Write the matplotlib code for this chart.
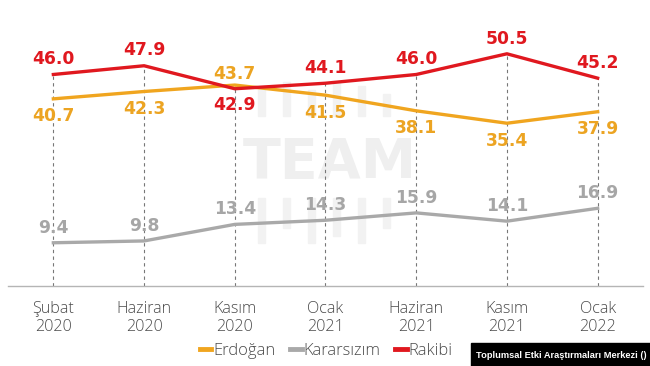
import numpy as np
import matplotlib.pyplot as plt
from matplotlib.patches import Rectangle

# data
periods = ['Şubat\n2020', 'Haziran\n2020', 'Kasım\n2020', 'Ocak\n2021',
           'Haziran\n2021', 'Kasım\n2021', 'Ocak\n2022']
erdogan = [40.7, 42.3, 43.7, 41.5, 38.1, 35.4, 37.9]
kararsiz = [9.4, 9.8, 13.4, 14.3, 15.9, 14.1, 16.9]
rakibi = [46.0, 47.9, 42.9, 44.1, 46.0, 50.5, 45.2]

RED = '#e0181f'
ORANGE = '#f0a51f'
GRAY = '#a9a9a9'

W, H = 650, 366
fig = plt.figure(figsize=(6.5, 3.66), dpi=100)
ax = fig.add_axes([8 / W, 1 - 286 / H, 635 / W, 286 / H])
x = np.arange(len(periods))

# watermark (behind everything)
fig.text(330 / W, 1 - 163 / H, 'TEAM', fontsize=40, fontweight='bold',
         color='#efefef', ha='center', va='center', zorder=-2)
bar_x = [258, 283, 308, 333, 358, 383]
top_h = [30, 34, 26, 34, 30, 22]
bot_h = [45, 30, 45, 38, 45, 30]
for bx, th, bh in zip(bar_x, top_h, bot_h):
    fig.patches.append(Rectangle((bx / W, 1 - 116 / H), 7 / W, th / H,
                                 transform=fig.transFigure, color='#f2f2f2', zorder=-2))
    fig.patches.append(Rectangle((bx / W, 1 - (198 + bh) / H), 7 / W, bh / H,
                                 transform=fig.transFigure, color='#f2f2f2', zorder=-2))
ax.patch.set_alpha(0)

# dashed guides
tops = np.maximum(np.maximum(erdogan, rakibi), kararsiz)
ax.vlines(x, 0, tops, colors='#777777', linestyles=(0, (3, 3)), linewidth=0.8, zorder=1)

ax.plot(x, erdogan, color=ORANGE, lw=2.4, label='Erdoğan', zorder=3)
ax.plot(x, kararsiz, color=GRAY, lw=2.4, label='Kararsızım', zorder=3)
ax.plot(x, rakibi, color=RED, lw=2.4, label='Rakibi', zorder=4)

lab_kw = dict(textcoords='offset points', ha='center', va='center',
              fontsize=12.3, fontweight='bold', zorder=5)
for i in x:
    dy_r = -11.5 if rakibi[i] < erdogan[i] else 11
    dy_o = 8 if erdogan[i] > rakibi[i] else -12.5
    ax.annotate(f'{rakibi[i]:.1f}', (i, rakibi[i]), xytext=(0, dy_r), color=RED, **lab_kw)
    ax.annotate(f'{erdogan[i]:.1f}', (i, erdogan[i]), xytext=(0, dy_o), color='#eca422', **lab_kw)
    ax.annotate(f'{kararsiz[i]:.1f}', (i, kararsiz[i]), xytext=(0, 11), color='#a6a6a6', **lab_kw)

ax.set_xlim(-0.5, 6.5)
ax.set_ylim(0, 62.2)
for s in ['top', 'right', 'left']:
    ax.spines[s].set_visible(False)
ax.spines['bottom'].set_color('#b5b5b5')
ax.spines['bottom'].set_linewidth(1)
ax.set_yticks([])
ax.set_xticks(x)
ax.set_xticklabels(periods, fontsize=11.6, color='#4a4a4a', family='Open Sans',
                   fontweight='light', linespacing=1.2)
ax.tick_params(axis='x', length=0, pad=10.5)

leg = fig.legend(loc='center', bbox_to_anchor=(326 / W, 1 - 351 / H), ncol=3,
                 frameon=False, handlelength=0.7, handletextpad=0.1,
                 columnspacing=0.9,
                 prop={'family': 'Open Sans', 'weight': 'light', 'size': 11.9})
for t in leg.get_texts():
    t.set_color('#4a4a4a')
for h in leg.legend_handles:
    h.set_linewidth(3.5)

fig.text(561 / W, 1 - 355 / H, 'Toplumsal Etki Araştırmaları Merkezi ()',
         fontsize=6.7, fontweight='bold', family='Liberation Sans', color='white',
         ha='center', va='center', zorder=11)
fig.patches.append(Rectangle((471 / W, 0), 179 / W, 23 / H, transform=fig.transFigure,
                             color='black', zorder=10))

fig.savefig('out.png', dpi=100)
